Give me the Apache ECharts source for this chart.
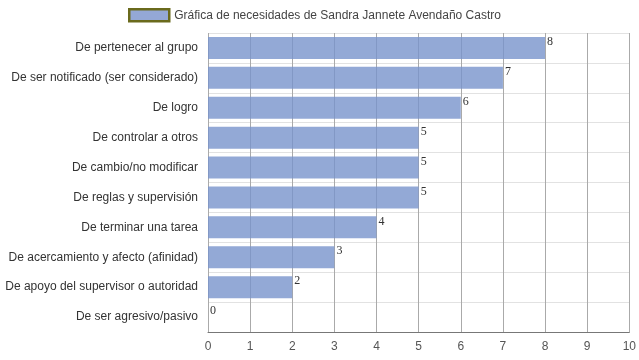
<!DOCTYPE html>
<html><head><meta charset="utf-8">
<script src="https://cdn.jsdelivr.net/npm/echarts@6/dist/echarts.min.js"></script>
<style>html,body{margin:0;padding:0;background:#fff}#c{width:639px;height:360px}</style>
</head><body><div id="c"></div>
<script>
const categories = [
  "De pertenecer al grupo",
  "De ser notificado (ser considerado)",
  "De logro",
  "De controlar a otros",
  "De cambio/no modificar",
  "De reglas y supervisión",
  "De terminar una tarea",
  "De acercamiento y afecto (afinidad)",
  "De apoyo del supervisor o autoridad",
  "De ser agresivo/pasivo"
];
const values = [8, 7, 6, 5, 5, 5, 4, 3, 2, 0];
const seriesName = "Gráfica de necesidades de Sandra Jannete Avendaño Castro";
const xTicks = [0, 10, 1];

const chart = echarts.init(document.getElementById('c'));
chart.setOption({
  animation: false,
  textStyle: {fontFamily: '"Liberation Sans", Arial, sans-serif'},
  legend: {
    top: 8, left: 128, padding: 0,
    icon: 'rect',
    itemWidth: 40, itemHeight: 12, itemGap: 5,
    textStyle: {color: '#444', fontSize: 12},
    data: [{name: seriesName, itemStyle: {color: '#94a8d6', borderColor: '#6a6a1c', borderWidth: 2.5}}]
  },
  grid: {left: 208, right: 9, top: 33, bottom: 28, containLabel: false},
  xAxis: {
    type: 'value', min: xTicks[0], max: xTicks[1], interval: xTicks[2],
    axisLine: {show: true, lineStyle: {color: '#777'}},
    axisTick: {show: false},
    axisLabel: {color: '#555', fontSize: 12, margin: 9},
    splitLine: {show: true, lineStyle: {color: '#aaa'}}
  },
  yAxis: {
    type: 'category', inverse: true, data: categories,
    axisLine: {show: false}, axisTick: {show: false},
    axisLabel: {color: '#333', fontSize: 12, margin: 10},
    splitLine: {show: true, lineStyle: {color: '#e2e2e2'}}
  },
  series: [{
    name: seriesName, type: 'bar', data: values,
    barWidth: 22,
    itemStyle: {color: 'rgba(120,148,204,0.8)'},
    label: {show: true, position: 'right', distance: 2, offset: [0, -6],
      color: '#333', fontSize: 12, fontFamily: '"Liberation Serif", "DejaVu Serif", serif'}
  }]
});
</script></body></html>
